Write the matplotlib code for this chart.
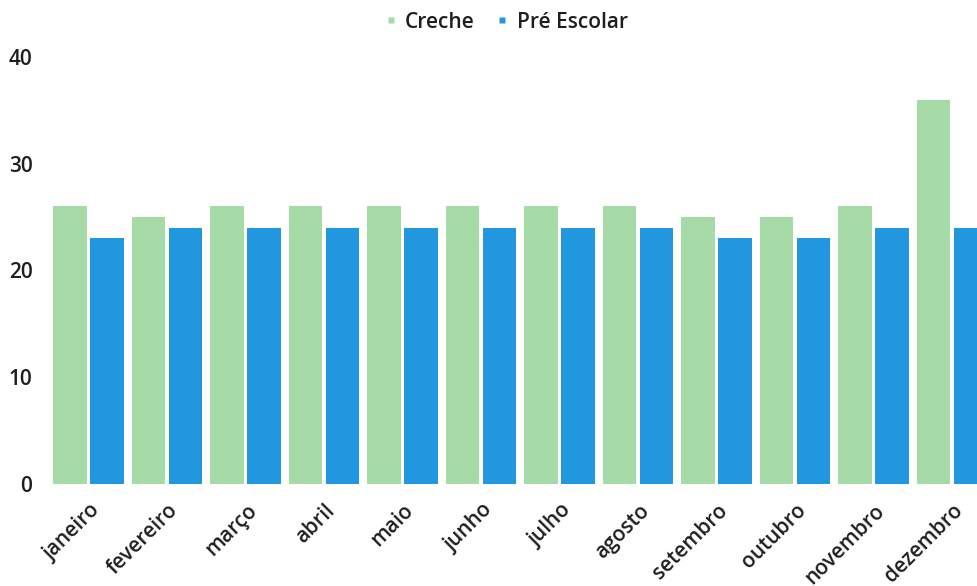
import matplotlib
matplotlib.use("Agg")
import matplotlib.pyplot as plt
import matplotlib.transforms as mtransforms
from matplotlib.lines import Line2D
import numpy as np

months = ["janeiro", "fevereiro", "março", "abril", "maio", "junho",
          "julho", "agosto", "setembro", "outubro", "novembro", "dezembro"]
creche = [26, 25, 26, 26, 26, 26, 26, 26, 25, 25, 26, 36]
pre_escolar = [23, 24, 24, 24, 24, 24, 24, 24, 23, 23, 24, 24]
y_ticks = [0, 10, 20, 30, 40]

green = "#a6dba8"
blue = "#2197e0"
text_color = "#1e1e1e"

plt.rcParams["font.family"] = ["Open Sans", "DejaVu Sans"]

W, H = 978, 586
fig = plt.figure(figsize=(W / 100, H / 100), dpi=100)

# axes geometry in pixels
left_px, right_px = 45, 978
y0_px, y40_px = 484, 57
ax = fig.add_axes([left_px / W, (H - y0_px) / H,
                   (right_px - left_px) / W, (y0_px - y40_px) / H])

center0_px, pitch_px = 88.5, 78.5
x = np.arange(len(months))
bw = 0.425
off = 0.235
ax.bar(x - off, creche, width=bw, color=green, linewidth=0)
ax.bar(x + off, pre_escolar, width=bw, color=blue, linewidth=0)

ax.set_xlim((left_px - center0_px) / pitch_px, (right_px - center0_px) / pitch_px)
ax.set_ylim(0, 40)

for s in ax.spines.values():
    s.set_visible(False)

ax.set_yticks(y_ticks)
ax.set_yticklabels([str(v) for v in y_ticks])
ax.tick_params(axis="y", length=0, pad=9, labelsize=15, labelcolor=text_color)
for lab in ax.get_yticklabels():
    lab.set_fontweight("semibold")

ax.set_xticks(x)
ax.set_xticklabels(months, rotation=45, ha="right", va="center",
                   rotation_mode="anchor")
ax.tick_params(axis="x", length=0, pad=17, labelsize=15, labelcolor=text_color)
shift = mtransforms.ScaledTranslation(8 / 100, 0, fig.dpi_scale_trans)
for lab in ax.get_xticklabels():
    lab.set_fontweight("semibold")
    lab.set_transform(lab.get_transform() + shift)

handles = [
    Line2D([], [], marker="s", linestyle="none", markersize=5,
           markerfacecolor=green, markeredgecolor="none", label="Creche"),
    Line2D([], [], marker="s", linestyle="none", markersize=5,
           markerfacecolor=blue, markeredgecolor="none", label="Pré Escolar"),
]
leg = fig.legend(handles=handles, loc="center", ncol=2, frameon=False,
                 bbox_to_anchor=(506 / W, 1 - 22 / H),
                 handlelength=0.6, handletextpad=0.4, columnspacing=1.0,
                 prop={"weight": "semibold", "size": 15})
for t in leg.get_texts():
    t.set_color(text_color)

fig.savefig("out.png", dpi=100)
